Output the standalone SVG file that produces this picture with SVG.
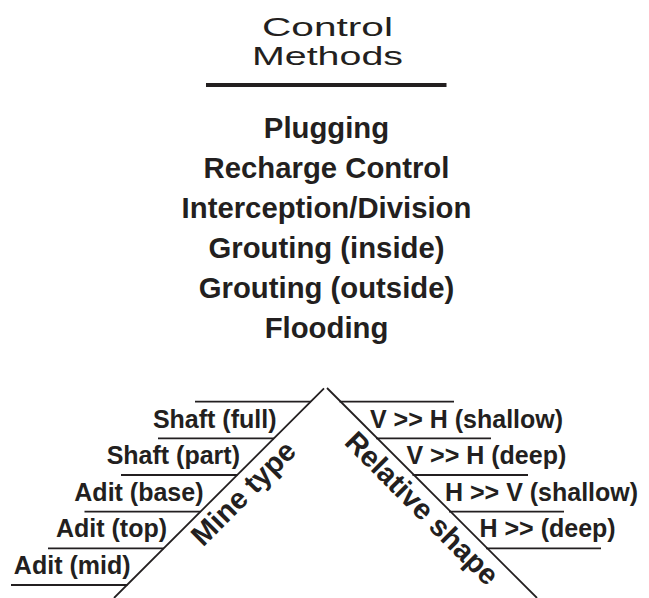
<svg xmlns="http://www.w3.org/2000/svg" width="649" height="598" viewBox="0 0 649 598">
<style>
.ttl{font-family:"Liberation Sans",Arial,sans-serif;font-size:26px;fill:#231f20;text-anchor:middle}
.lst{font-family:"Liberation Sans",Arial,sans-serif;font-size:29.3px;font-weight:bold;fill:#231f20;text-anchor:middle}
.lbl{font-family:"Liberation Sans",Arial,sans-serif;font-size:25px;font-weight:bold;fill:#231f20}
.l{text-anchor:end}
.diag{font-family:"Liberation Sans",Arial,sans-serif;font-size:29px;font-weight:bold;fill:#231f20}
.ln{stroke:#231f20;stroke-width:1.8;fill:none}
</style>
<rect width="649" height="598" fill="#ffffff"/>
<g id="title">
<text class="ttl" x="327.5" y="36" textLength="131" lengthAdjust="spacingAndGlyphs">Control</text>
<text class="ttl" x="327.5" y="64.5" textLength="151" lengthAdjust="spacingAndGlyphs">Methods</text>
<line x1="206" y1="85" x2="446.5" y2="85" stroke="#231f20" stroke-width="4"/>
</g>
<g id="methods">
<text class="lst" x="326.5" y="138">Plugging</text>
<text class="lst" x="326.5" y="178">Recharge Control</text>
<text class="lst" x="326.5" y="218">Interception/Division</text>
<text class="lst" x="326.5" y="258">Grouting (inside)</text>
<text class="lst" x="326.5" y="298">Grouting (outside)</text>
<text class="lst" x="326.5" y="338">Flooding</text>
</g>
<g id="connectors">
<path class="ln" d="M114,598 L324,388.3"/>
<path class="ln" d="M327,388 L537,598"/>
<path class="ln" d="M195,401.7 H311 M158,438.3 H274 M121,475 H237.5 M84.5,511.7 H200.5 M48,548.3 H164 M11,585 H127.5"/>
<path class="ln" d="M339.5,401.7 H454 M376,438.3 H491 M412.5,475 H528 M449,511.7 H564 M486,548.3 H601"/>
</g>
<g id="mine-type">
<text class="diag" transform="translate(203.1,547.4) rotate(-45)">Mine type</text>
<text class="lbl l" x="276.5" y="427.5">Shaft (full)</text>
<text class="lbl l" x="240" y="464">Shaft (part)</text>
<text class="lbl l" x="203.5" y="500.5">Adit (base)</text>
<text class="lbl l" x="167" y="537.2">Adit (top)</text>
<text class="lbl l" x="130.5" y="573.8">Adit (mid)</text>
</g>
<g id="relative-shape">
<text class="diag" transform="translate(343.2,443.4) rotate(45)">Relative shape</text>
<text class="lbl" x="370" y="427.5">V &gt;&gt; H (shallow)</text>
<text class="lbl" x="406.5" y="464">V &gt;&gt; H (deep)</text>
<text class="lbl" x="445" y="500.5">H &gt;&gt; V (shallow)</text>
<text class="lbl" x="479.5" y="537.2">H &gt;&gt; (deep)</text>
</g>
</svg>
